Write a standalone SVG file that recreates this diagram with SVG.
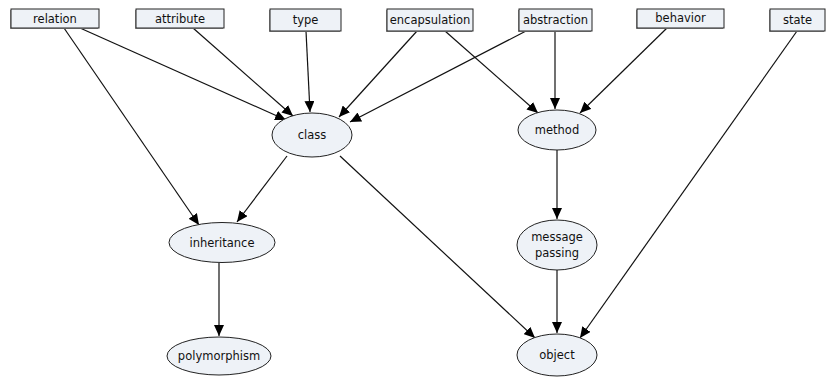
<svg xmlns="http://www.w3.org/2000/svg" width="832" height="379" viewBox="0 0 832 379">
  <style>
    .box rect { fill: #eef2f7; stroke: #222; stroke-width: 1; }
    .box .shade { fill: #9a9a9a; stroke: none; }
    .oval ellipse { fill: #eef2f7; stroke: #222; stroke-width: 1; }
    text { font-family: "DejaVu Sans", Verdana, sans-serif; font-size: 11.5px; fill: #111; text-anchor: middle; dominant-baseline: central; }
    #edges line { stroke: #111; stroke-width: 1.2; marker-end: url(#arrow); }
  </style>
  <defs>
    <marker id="arrow" viewBox="0 0 11 10" refX="11" refY="5" markerWidth="11" markerHeight="10" markerUnits="userSpaceOnUse" orient="auto">
      <path d="M0,0 L11,5 L0,10 z" fill="#000"/>
    </marker>
  </defs>
  <rect width="832" height="379" fill="#fff"/>

  <!-- connectors -->
  <g id="edges">
    <line x1="80" y1="28" x2="286" y2="120"/>
    <line x1="64" y1="28" x2="199" y2="225"/>
    <line x1="193" y1="28" x2="293" y2="116"/>
    <line x1="306" y1="31" x2="310" y2="112"/>
    <line x1="417" y1="31" x2="339" y2="117"/>
    <line x1="445" y1="31" x2="538" y2="113"/>
    <line x1="526" y1="31" x2="350" y2="122"/>
    <line x1="555" y1="31" x2="555" y2="109"/>
    <line x1="668" y1="27" x2="580" y2="113"/>
    <line x1="797" y1="31" x2="580" y2="338"/>
    <line x1="287" y1="156" x2="237" y2="222"/>
    <line x1="340" y1="156" x2="535" y2="338"/>
    <line x1="557" y1="150" x2="557" y2="219"/>
    <line x1="557" y1="270" x2="557" y2="333"/>
    <line x1="219" y1="263" x2="219" y2="336"/>
  </g>

  <!-- concept boxes (thin shade on left and bottom edges) -->
  <g id="relation" class="box">
    <rect class="shade" x="10" y="10" width="88" height="19"/>
    <rect x="11" y="9" width="88" height="19"/>
    <text x="55" y="18.5">relation</text>
  </g>
  <g id="attribute" class="box">
    <rect class="shade" x="135" y="10" width="88" height="19"/>
    <rect x="136" y="9" width="88" height="19"/>
    <text x="180" y="18.5">attribute</text>
  </g>
  <g id="type" class="box">
    <rect class="shade" x="269" y="10" width="71" height="22"/>
    <rect x="270" y="9" width="71" height="22"/>
    <text x="305.5" y="20">type</text>
  </g>
  <g id="encapsulation" class="box">
    <rect class="shade" x="386" y="10" width="86" height="22"/>
    <rect x="387" y="9" width="86" height="22"/>
    <text x="430" y="20">encapsulation</text>
  </g>
  <g id="abstraction" class="box">
    <rect class="shade" x="518" y="10" width="73" height="22"/>
    <rect x="519" y="9" width="73" height="22"/>
    <text x="555.5" y="20">abstraction</text>
  </g>
  <g id="behavior" class="box">
    <rect class="shade" x="636" y="10" width="87" height="19"/>
    <rect x="637" y="9" width="87" height="19"/>
    <text x="680.5" y="18">behavior</text>
  </g>
  <g id="state" class="box">
    <rect class="shade" x="769" y="10" width="55" height="22"/>
    <rect x="770" y="9" width="55" height="22"/>
    <text x="797.5" y="20">state</text>
  </g>

  <!-- concept ovals -->
  <g id="class" class="oval">
    <ellipse cx="312" cy="135" rx="40" ry="22"/>
    <text x="312" y="135">class</text>
  </g>
  <g id="method" class="oval">
    <ellipse cx="557" cy="130" rx="39" ry="20"/>
    <text x="557" y="130">method</text>
  </g>
  <g id="inheritance" class="oval">
    <ellipse cx="222" cy="242.5" rx="53" ry="20"/>
    <text x="222" y="242.5">inheritance</text>
  </g>
  <g id="message-passing" class="oval">
    <ellipse cx="557" cy="245" rx="40" ry="25"/>
    <text x="557" y="237">message</text>
    <text x="557" y="253">passing</text>
  </g>
  <g id="polymorphism" class="oval">
    <ellipse cx="219" cy="356" rx="52" ry="19"/>
    <text x="219" y="356">polymorphism</text>
  </g>
  <g id="object" class="oval">
    <ellipse cx="557" cy="355" rx="40" ry="21"/>
    <text x="557" y="355">object</text>
  </g>
</svg>
